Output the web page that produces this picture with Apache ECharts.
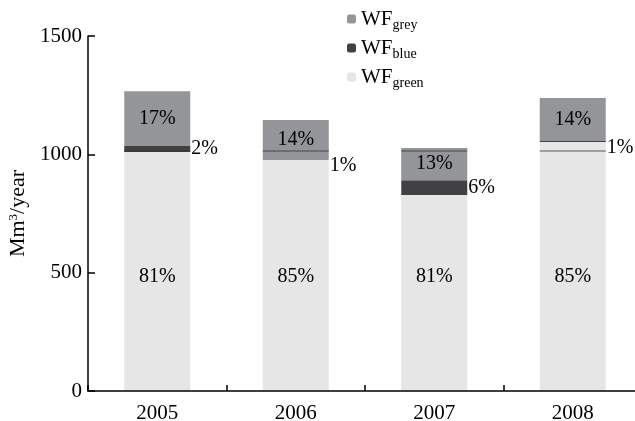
<!DOCTYPE html>
<html>
<head>
<meta charset="utf-8">
<script src="https://cdn.jsdelivr.net/npm/echarts@6/dist/echarts.min.js"></script>
<style>
html, body { margin: 0; padding: 0; background: #fff; }
#chart { width: 635px; height: 421px; }
</style>
</head>
<body>
<div id="chart"></div>
<script>
// data (Mm3/year)
var years = ['2005', '2006', '2007', '2008'];
var wfGreen = [1010, 976, 828, 1052];
var wfBlue = [25, 0, 63, 4];
var wfGrey = [232, 169, 136, 182];
var pctGreen = ['81%', '85%', '81%', '85%'];
var pctBlue = ['2%', '1%', '6%', '1%'];
var pctGrey = ['17%', '14%', '13%', '14%'];
// thin dark line seen across the bars
var refLine = [1014, 1014, 1014, 1014];
var yTicks = [0, 500, 1000, 1500];

var myChart = echarts.init(document.getElementById('chart'), null, {renderer: 'canvas'});
var font = 'Liberation Serif';

var blueData = [];
for (var i = 0; i < years.length; i++) {
	var item = {value: wfBlue[i]};
	if (wfBlue[i] < 5) {
		item.label = {offset: [0, 6]};
	}
	blueData.push(item);
}

var option = {
	animation: false,
	textStyle: {fontFamily: font, color: '#000'},
	grid: {left: 88, top: 36, bottom: 30, right: -7, outerBoundsMode: 'none'},
	legend: {
		orient: 'vertical',
		left: 342,
		top: 3,
		itemWidth: 9,
		itemHeight: 9,
		itemGap: 5,
		data: ['WF_grey', 'WF_blue', 'WF_green'],
		formatter: function (name) {
			return '{a|WF}{b|' + name.split('_')[1] + '}';
		},
		textStyle: {
			rich: {
				a: {fontFamily: font, fontSize: 21, color: '#000', lineHeight: 26},
				b: {fontFamily: font, fontSize: 14, color: '#000', verticalAlign: 'bottom', padding: [10, 0, 0, 0], lineHeight: 26}
			}
		}
	},
	xAxis: {
		type: 'category',
		data: years,
		z: 10,
		axisLine: {lineStyle: {color: '#000', width: 1.5}},
		axisTick: {show: true, inside: true, length: 6, lineStyle: {color: '#000', width: 1.5}},
		axisLabel: {fontFamily: font, fontSize: 21, color: '#000', margin: 12}
	},
	yAxis: {
		type: 'value',
		min: yTicks[0],
		max: yTicks[yTicks.length - 1],
		interval: 500,
		z: 10,
		name: '{a|Mm}{s|3}{a|/year}',
		nameLocation: 'middle',
		nameGap: 46,
		nameTextStyle: {
			rich: {
				a: {fontFamily: font, fontSize: 22, color: '#000'},
				s: {fontFamily: font, fontSize: 13, color: '#000', verticalAlign: 'top', padding: [0, 0, 8, 0]}
			}
		},
		splitLine: {show: false},
		axisLine: {show: true, lineStyle: {color: '#000', width: 1.5}},
		axisTick: {show: true, inside: true, length: 7, lineStyle: {color: '#000', width: 1.5}},
		axisLabel: {
			fontFamily: font, fontSize: 21, color: '#000', margin: 6,
			formatter: function (v) { return String(v); }
		}
	},
	series: [
		{
			name: 'WF_green',
			type: 'bar',
			stack: 'wf',
			barWidth: 66,
			data: wfGreen,
			itemStyle: {color: '#e6e6e6'},
			label: {
				show: true, position: 'insideBottom', distance: 104, fontFamily: font, fontSize: 20, color: '#000',
				formatter: function (p) { return pctGreen[p.dataIndex]; }
			}
		},
		{
			name: 'WF_blue',
			type: 'bar',
			stack: 'wf',
			barWidth: 66,
			data: blueData,
			itemStyle: {color: '#414042'},
			label: {
				show: true, position: 'right', distance: 1, fontFamily: font, fontSize: 20, color: '#000',
				formatter: function (p) { return pctBlue[p.dataIndex]; }
			}
		},
		{
			name: 'WF_grey',
			type: 'bar',
			stack: 'wf',
			barWidth: 66,
			data: wfGrey,
			itemStyle: {color: '#939598'},
			label: {
				show: true, position: 'inside', fontFamily: font, fontSize: 20, color: '#000',
				formatter: function (p) { return pctGrey[p.dataIndex]; }
			}
		},
		{
			name: 'line',
			type: 'scatter',
			symbol: 'rect',
			symbolSize: [66, 1.2],
			data: refLine,
			itemStyle: {color: '#333'},
			z: 5,
			silent: true
		}
	]
};
myChart.setOption(option);
</script>
</body>
</html>
